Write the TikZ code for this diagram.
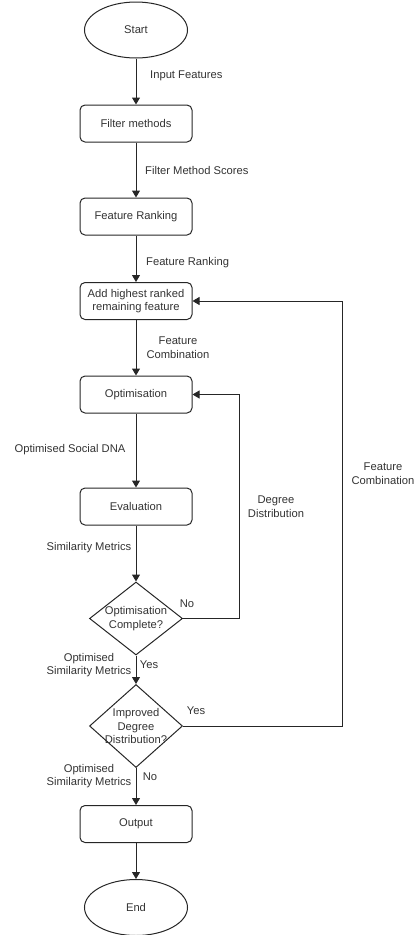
\documentclass[tikz,border=0pt]{standalone}
\usepackage{fontspec}
\setmainfont{Liberation Sans}
\usetikzlibrary{shapes.geometric,arrows.meta}
\begin{document}
\begin{tikzpicture}[x=1pt,y=-1pt,font=\fontsize{11.2}{13.7}\selectfont,text=black!80,
    box/.style={draw=black!85,line width=1pt,rounded corners=5pt,minimum width=112pt,minimum height=37pt,inner sep=0pt},
    term/.style={draw=black!85,line width=1pt,ellipse,minimum width=103pt,minimum height=56pt,inner sep=0pt},
    decide/.style={draw=black!85,line width=1pt,diamond,minimum width=93pt,minimum height=73pt,inner sep=0pt},
    flow/.style={draw=black!85,line width=1pt,-{Triangle[length=7pt,width=8pt]}},
    lbl/.style={align=center,inner sep=0pt}]
  \useasboundingbox (0,0) rectangle (420,935);
  \node[term] (start) at (136,30) {Start};
  \node[box] (filter) at (136,123.5) {Filter methods};
  \node[box] (rank) at (136,216.5) {Feature Ranking};
  \node[box,align=center] (add) at (136,301) {Add highest ranked\\remaining feature};
  \node[box] (opt) at (136,394.5) {Optimisation};
  \node[box] (eval) at (136,506.5) {Evaluation};
  \node[decide,label={[lbl]center:{Optimisation\\Complete?}}] (optdone) at (136,618.5) {};
  \node[decide,minimum height=83pt,label={[lbl]center:{Improved\\Degree\\Distribution?}}] (improved) at (136,726) {};
  \node[box] (output) at (136,824) {Output};
  \node[term] (stop) at (136,907.5) {End};
  \coordinate (loopa) at (239,0);
  \coordinate (loopb) at (342,0);

  \draw[flow] (start) -- (filter);
  \draw[flow] (filter) -- (rank);
  \draw[flow] (rank) -- (add);
  \draw[flow] (add) -- (opt);
  \draw[flow] (opt) -- (eval);
  \draw[flow] (eval) -- (optdone);
  \draw[flow] (optdone) -- (improved);
  \draw[flow] (improved) -- (output);
  \draw[flow] (output) -- (stop);
  \draw[flow] (optdone.east) -- (optdone.east -| loopa) -- (loopa |- opt.east) -- (opt.east);
  \draw[flow] (improved.east) -- (improved.east -| loopb) -- (loopb |- add.east) -- (add.east);

  \node[lbl,anchor=west] (lin) at (150,76) {Input Features};
  \node[lbl,anchor=west] (lscores) at (145,170) {Filter Method Scores};
  \node[lbl,anchor=west] (lrank) at (146,263) {Feature Ranking};
  \node[lbl] (lcomb) at (178,347.5) {Feature\\Combination};
  \node[lbl] (ldna) at (70,450) {Optimised Social DNA};
  \node[lbl] (lsim) at (89,548) {Similarity Metrics};
  \node[lbl] (ldeg) at (276,507) {Degree\\Distribution};
  \node[lbl] (lcombb) at (383,474) {Feature\\Combination};
  \node[lbl] (lnoa) at (187,604) {No};
  \node[lbl] (lsima) at (89,665) {Optimised\\Similarity Metrics};
  \node[lbl] (lyesa) at (149,665) {Yes};
  \node[lbl] (lyesb) at (196,711) {Yes};
  \node[lbl] (lsimb) at (89,776) {Optimised\\Similarity Metrics};
  \node[lbl] (lnob) at (150,777) {No};
\end{tikzpicture}
\end{document}
